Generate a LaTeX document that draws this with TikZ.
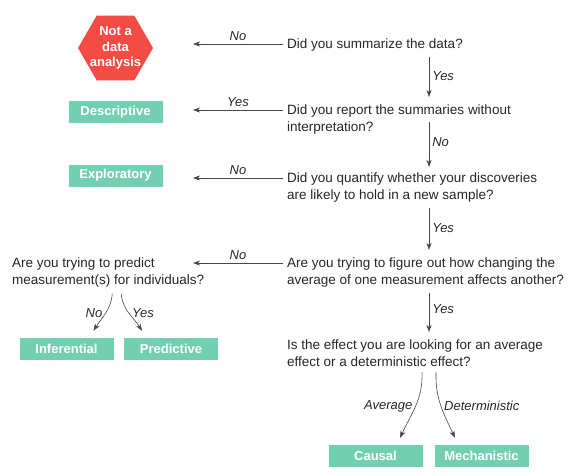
\documentclass[tikz,border=0pt]{standalone}
\usepackage{fontspec}
\setmainfont{Liberation Sans}
\usetikzlibrary{shapes.geometric,arrows.meta}
\definecolor{leafgreen}{HTML}{72CFB0}
\definecolor{stopred}{HTML}{F44B45}
\definecolor{ink}{HTML}{262626}
\tikzset{
  question/.style={anchor=north west, align=left, inner sep=0pt, text=ink,
    font=\fontsize{13.5}{17}\selectfont},
  leaf/.style={fill=leafgreen, text=white, minimum width=94pt, minimum height=22pt,
    inner sep=0pt, font=\fontsize{13}{15}\selectfont\bfseries},
  stopsign/.style={regular polygon, regular polygon sides=6, minimum size=75pt,
    inner sep=-6pt, fill=stopred, text=white, align=center,
    font=\fontsize{13}{15.5}\selectfont\bfseries},
  arr/.style={draw=ink!85, line width=0.6pt, -{Stealth[length=7pt,width=5pt,inset=2pt]}},
  down/.style={arr, shorten <=5pt, shorten >=8pt},
  lab/.style={text=ink, inner sep=3pt, font=\fontsize{13}{15}\selectfont\itshape},
}
\begin{document}
\begin{tikzpicture}[x=1pt,y=1pt]
  \useasboundingbox (0,0) rectangle (577,475);
  \coordinate (ax) at (429,0);
  \coordinate (hx) at (193,0);

  \node[stopsign] (nad) at (115.5,427) {Not a\\data\\analysis};
  \node[leaf] (desc) at (115.5,363) {Descriptive};
  \node[leaf] (expl) at (115.5,299.5) {Exploratory};
  \node[leaf] (inf) at (66.5,126) {Inferential};
  \node[leaf] (pred) at (171,126) {Predictive};
  \node[leaf] (caus) at (375.5,19) {Causal};
  \node[leaf] (mech) at (481.5,19) {Mechanistic};

  \node[question] (q1) at (287,436) {Did you summarize the data?};
  \node[question] (q2) at (287,370) {Did you report the summaries without\\interpretation?};
  \node[question] (q3) at (287,302) {Did you quantify whether your discoveries\\are likely to hold in a new sample?};
  \node[question] (q4) at (287,217) {Are you trying to figure out how changing the\\average of one measurement affects another?};
  \node[question] (q5) at (12,217) {Are you trying to predict\\measurement(s) for individuals?};
  \node[question] (q6) at (287,135) {Is the effect you are looking for an average\\effect or a deterministic effect?};

  \coordinate (s1) at ([xshift=-4pt,yshift=-5pt]q1.north west);
  \coordinate (s2) at ([xshift=-4pt,yshift=-5pt]q2.north west);
  \coordinate (s3) at ([xshift=-4pt,yshift=-5pt]q3.north west);
  \coordinate (s4) at ([xshift=-4pt,yshift=-5pt]q4.north west);

  \draw[arr] (s1) -- node[lab,above] {No} (s1 -| hx);
  \draw[arr] (s2) -- node[lab,above] {Yes} (s2 -| hx);
  \draw[arr] (s3) -- node[lab,above] {No} (s3 -| hx);
  \draw[arr] (s4) -- node[lab,above] {No} (s4 -| hx);

  \draw[down] (q1.south -| ax) -- node[lab,right,pos=0.45] {Yes} (q2.north -| ax);
  \draw[down,shorten <=-13pt,shorten >=6pt] (q2.south -| ax) -- node[lab,right,pos=0.2] {No} (q3.north -| ax);
  \draw[down] (q3.south -| ax) -- node[lab,right,pos=0.45] {Yes} (q4.north -| ax);
  \draw[down] (q4.south -| ax) -- node[lab,right,pos=0.4] {Yes} (q6.north -| ax);

  \draw[arr] ([xshift=4pt,yshift=-6pt]q5.south) to[out=-95,in=58]
    node[lab,left] {No} ([xshift=27pt,yshift=7pt]inf.north);
  \draw[arr] ([xshift=13pt,yshift=-6pt]q5.south) to[out=-85,in=122]
    node[lab,right] {Yes} ([xshift=-29pt,yshift=7pt]pred.north);
  \draw[arr] ([xshift=7pt,yshift=-5pt]q6.south) to[out=-88,in=65]
    node[lab,left] {Average} ([xshift=24.5pt,yshift=7pt]caus.north);
  \draw[arr] ([xshift=21pt,yshift=-5pt]q6.south) to[out=-92,in=115]
    node[lab,right] {Deterministic} ([xshift=-26.5pt,yshift=7pt]mech.north);
\end{tikzpicture}
\end{document}
